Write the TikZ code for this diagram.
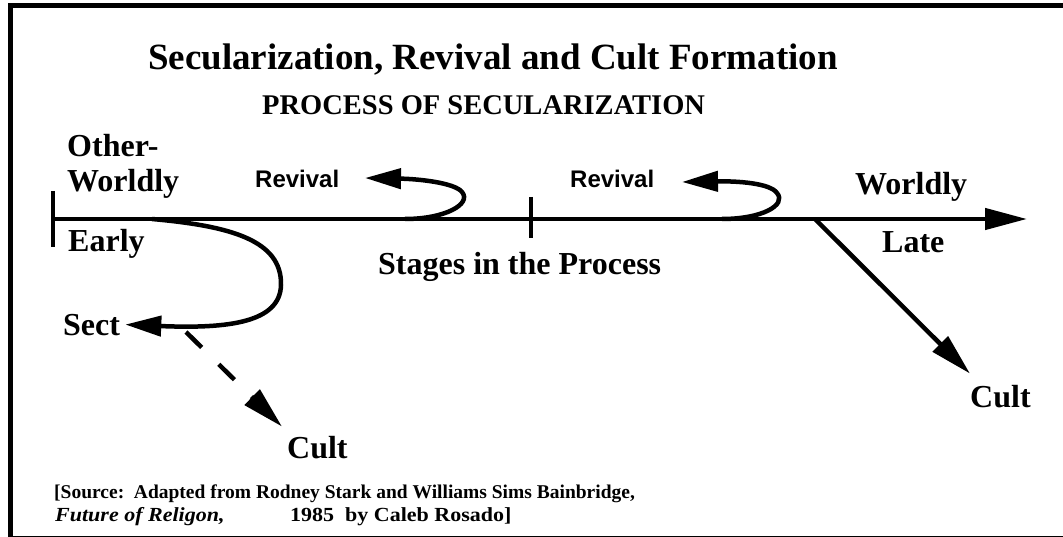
\documentclass[tikz,border=0pt]{standalone}
\usepackage{fontspec}
\setmainfont{Liberation Serif}
\newfontfamily\revfont{Liberation Sans}
\usetikzlibrary{arrows.meta}

\tikzset{
  lbl/.style={font=\fontsize{32}{35}\selectfont\bfseries, inner sep=0pt, anchor=base west},
  revlbl/.style={font=\revfont\fontsize{24}{26}\selectfont\bfseries, inner sep=0pt, anchor=base west},
  srclbl/.style={font=\fontsize{19.5}{22}\selectfont\bfseries, inner sep=0pt, anchor=base west},
  thickline/.style={line width=4.5pt},
  bigtip/.style={-{Triangle[length=42pt,width=21pt]}},
  smalltip/.style={-{Triangle[length=36pt,width=20pt]}},
}

\begin{document}
\begin{tikzpicture}[x=1pt,y=-1pt]
  \useasboundingbox (0,0) rectangle (1063,537);
  % Frame
  \draw[line width=5pt] (10.5,537) -- (10.5,5.5) -- (1063,5.5);
  \draw[line width=1pt] (8,536.5) -- (1063,536.5);
  % Titles
  \node[lbl, font=\fontsize{37}{40}\selectfont\bfseries] (title) at (148,70)
    {Secularization, Revival and Cult Formation};
  \node[lbl, font=\fontsize{28.5}{31}\selectfont\bfseries] (process) at (262,115)
    {PROCESS OF SECULARIZATION};
  % Labels along the process
  \foreach \px/\py/\name/\txt in {67/157/otherA/Other-, 67/192/otherB/Worldly,
      68/252/early/Early, 855/195/worldly/Worldly, 882/253/late/Late,
      378/275/stages/Stages in the Process, 63/335/sect/Sect,
      287/458/cultA/Cult, 970/407/cultB/Cult}
    \node[lbl] (\name) at (\px,\py) {\txt};
  \node[revlbl] (revA) at (255,188) {Revival};
  \node[revlbl] (revB) at (570,188) {Revival};
  % Source
  \node[srclbl] (srcA) at (54,498)
    {[Source:\ \ Adapted from Rodney Stark and Williams Sims Bainbridge,};
  \node[srclbl, font=\fontsize{20}{23}\selectfont\bfseries\itshape, xscale=1.1, transform shape]
    (srcB) at (55,521) {Future of Religon,};
  \node[srclbl, font=\fontsize{20}{23}\selectfont\bfseries, xscale=1.1, transform shape]
    (srcC) at (290,521) {1985\ \ by Caleb Rosado]};
  % Points on the axis
  \coordinate (axstart) at (53,219);
  \coordinate (axend) at (1027,219);
  \coordinate (sectfork) at (152,219);
  \coordinate (revAfork) at (405,219);
  \coordinate (revAtip) at (365,178);
  \coordinate (revBfork) at (722,219);
  \coordinate (revBtip) at (682,182);
  \coordinate (cultfork) at (815,219);
  \coordinate (dashfork) at (186,332);
  % Axis and ticks
  \draw[thickline, bigtip] (axstart) -- (axend);
  \draw[thickline] (53,191) -- (53,247);
  \draw[thickline] (531,197) -- (531,238);
  % Sect and its cult
  \draw[thickline, smalltip] (sectfork) .. controls (230,226) and (282,240) .. (281,285)
    .. controls (280,322) and (230,329) .. ([xshift=5pt]sect.east);
  \draw[thickline, bigtip, dash pattern=on 22pt off 24pt]
    (dashfork) -- ([xshift=-5pt,yshift=9pt]cultA.north west);
  % Revivals
  \draw[thickline, smalltip] (revAfork) .. controls (445,219) and (472,204) .. (462,192)
    .. controls (455,183) and (420,179) .. (revAtip);
  \draw[thickline, smalltip] (revBfork) .. controls (762,219) and (787,205) .. (777,193)
    .. controls (770,183) and (737,181) .. (revBtip);
  % Late cult
  \draw[thickline, bigtip] (cultfork) -- ([yshift=11pt]cultB.north west);
\end{tikzpicture}
\end{document}
